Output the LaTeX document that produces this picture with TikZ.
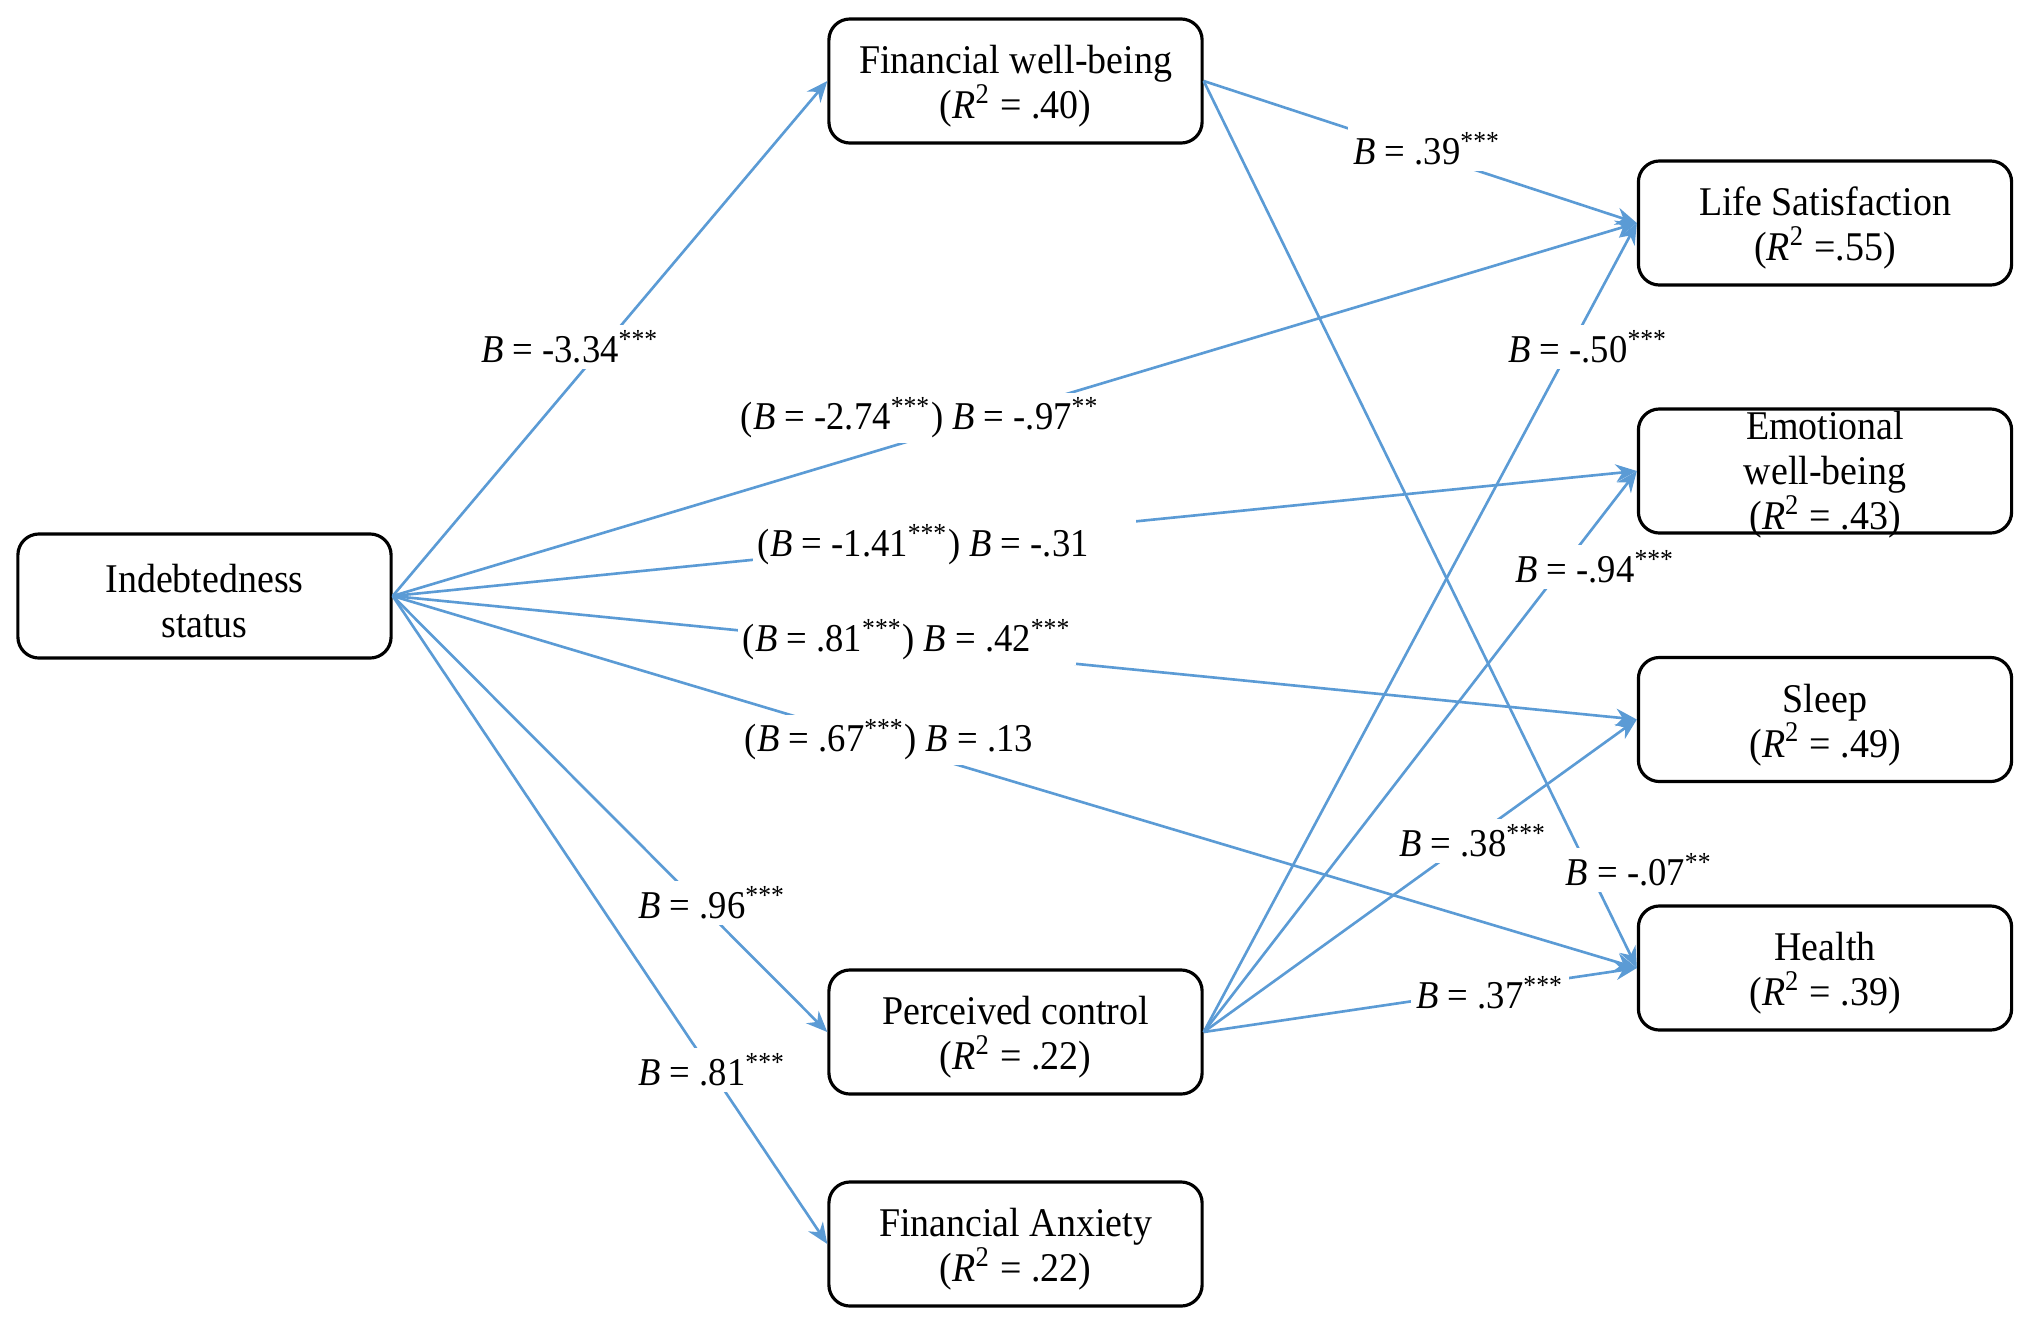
\documentclass[tikz,border=0pt]{standalone}
\usepackage{fontspec}
\setmainfont{Liberation Serif}[FakeStretch=0.93]
\usetikzlibrary{arrows.meta}
\definecolor{lnblue}{RGB}{91,155,213}
\newcommand{\Bv}{\textit{B}}
\newcommand{\Rsq}{\textit{R}\textsuperscript{2}}
\newcommand{\sg}[1]{\textsuperscript{#1}}
\begin{document}
\begin{tikzpicture}[x=0.01cm,y=-0.01cm,
 box/.style={draw, line width=0.9pt, rounded corners=6pt, minimum width=3.73cm, minimum height=1.24cm, inner sep=0pt},
 txt/.style={align=center, font=\fontsize{11.6}{12.8}\selectfont, inner sep=0pt},
 conn/.style={draw=lnblue, line width=0.75pt, -{Stealth[length=6pt,width=5pt]}},
 lab/.style={fill=white, inner sep=1.5pt, font=\fontsize{11.2}{13}\selectfont}]
\useasboundingbox (0,0) rectangle (2031,1324);
% boxes
\node[box] (ind) at (204.5,596) {};
\node[box] (fwb) at (1015.5,81) {};
\node[box] (pc) at (1015.5,1032) {};
\node[box] (fa) at (1015.5,1244) {};
\node[box] (ls) at (1825,223) {};
\node[box] (ewb) at (1825,471) {};
\node[box] (sleep) at (1825,719.5) {};
\node[box] (health) at (1825,968) {};
% box texts
\node[txt] (indt) at ([yshift=-1.5pt]ind.center) {Indebtedness\\status};
\node[txt] (fwbt) at ([yshift=-1.5pt]fwb.center) {Financial well-being\\(\Rsq{} = .40)};
\node[txt] (pct) at ([yshift=-1.5pt]pc.center) {Perceived control\\(\Rsq{} = .22)};
\node[txt] (fat) at ([yshift=-1.5pt]fa.center) {Financial Anxiety\\(\Rsq{} = .22)};
\node[txt] (lst) at ([yshift=-1.5pt]ls.center) {Life Satisfaction\\(\Rsq{} =.55)};
\node[txt] (ewbt) at ([yshift=-1.0pt]ewb.center) {Emotional\\well-being\\(\Rsq{} = .43)};
\node[txt] (sleept) at ([yshift=-1.5pt]sleep.center) {Sleep\\(\Rsq{} = .49)};
\node[txt] (healtht) at ([yshift=-1.5pt]health.center) {Health\\(\Rsq{} = .39)};
% connectors
\draw[conn] (ind.east) -- (fwb.west);
\draw[conn] (ind.east) -- (ls.west);
\draw[conn] (ind.east) -- (ewb.west);
\draw[conn] (ind.east) -- (sleep.west);
\draw[conn] (ind.east) -- (health.west);
\draw[conn] (ind.east) -- (pc.west);
\draw[conn] (ind.east) -- (fa.west);
\draw[conn] (fwb.east) -- (ls.west);
\draw[conn] (fwb.east) -- (health.west);
\draw[conn] (pc.east) -- (ls.west);
\draw[conn] (pc.east) -- (ewb.west);
\draw[conn] (pc.east) -- (sleep.west);
\draw[conn] (pc.east) -- (health.west);
% labels
\node[lab] (l1) at (570,347) {\Bv{} = -3.34\sg{***}};
\node[lab] (l2) at (920,418) {(\Bv{} = -2.74\sg{***}) \Bv{} = -.97\sg{**}};
\node[lab, anchor=west] (l3) at (752,545) {(\Bv{} = -1.41\sg{***}) \Bv{} = -.31\hspace*{0.42cm}};
\node[lab] (l4) at (907,640) {(\Bv{} = .81\sg{***}) \Bv{} = .42\sg{***}};
\node[lab] (l5) at (889,740) {(\Bv{} = .67\sg{***}) \Bv{} = .13};
\node[lab] (l6) at (712,903) {\Bv{} = .96\sg{***}};
\node[lab] (l7) at (712,1070) {\Bv{} = .81\sg{***}};
\node[lab] (l8) at (1427,149) {\Bv{} = .39\sg{***}};
\node[lab] (l9) at (1588,347) {\Bv{} = -.50\sg{***}};
\node[lab] (l10) at (1595,567) {\Bv{} = -.94\sg{***}};
\node[lab] (l11) at (1473,841) {\Bv{} = .38\sg{***}};
\node[lab] (l12) at (1639,870) {\Bv{} = -.07\sg{**}};
\node[lab] (l13) at (1490,993) {\Bv{} = .37\sg{***}};
\end{tikzpicture}
\end{document}
